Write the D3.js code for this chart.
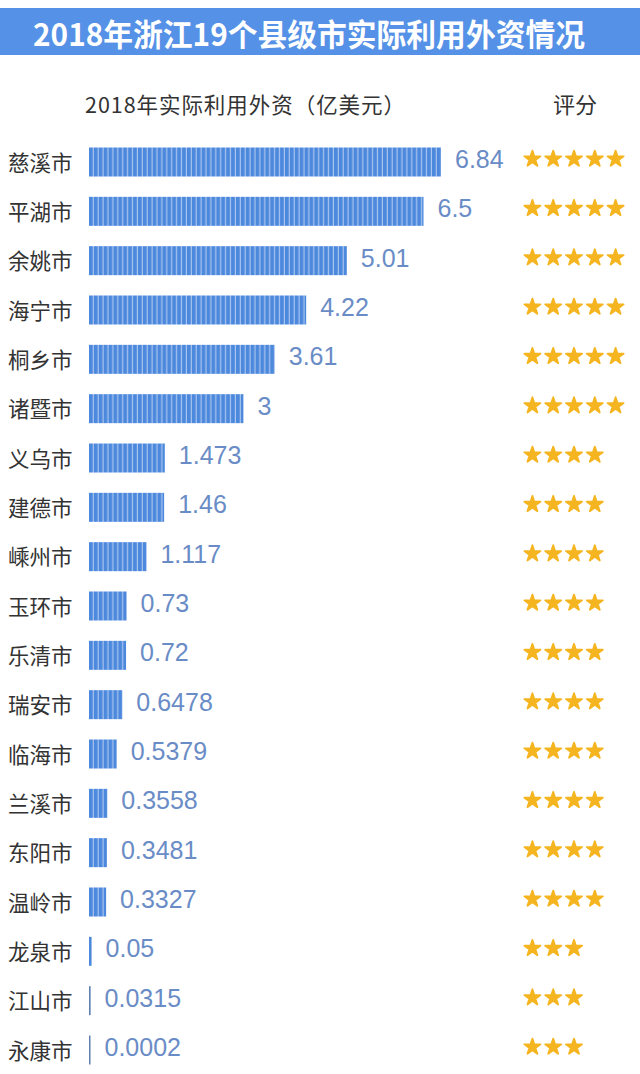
<!DOCTYPE html>
<html>
<head>
<meta charset="utf-8">
<script src="https://cdn.jsdelivr.net/npm/d3@7"></script>
<style>
  html, body { margin: 0; padding: 0; background: #ffffff; }
  svg { display: block; }
</style>
</head>
<body>
<script>
const titleText = "2018年浙江19个县级市实际利用外资情况";
const columnTitle = "2018年实际利用外资（亿美元）";
const ratingTitle = "评分";
const categories = ["慈溪市","平湖市","余姚市","海宁市","桐乡市","诸暨市","义乌市","建德市","嵊州市","玉环市","乐清市","瑞安市","临海市","兰溪市","东阳市","温岭市","龙泉市","江山市","永康市"];
const values = [6.84, 6.5, 5.01, 4.22, 3.61, 3, 1.473, 1.46, 1.117, 0.73, 0.72, 0.6478, 0.5379, 0.3558, 0.3481, 0.3327, 0.05, 0.0315, 0.0002];
const valueLabels = ["6.84","6.5","5.01","4.22","3.61","3","1.473","1.46","1.117","0.73","0.72","0.6478","0.5379","0.3558","0.3481","0.3327","0.05","0.0315","0.0002"];
const ratings = [5,5,5,5,5,5,4,4,4,4,4,4,4,4,4,4,3,3,3];
const starSlots = [0,1,2,3,4];

const W = 640, H = 1074;
const cjk = "'Noto Sans CJK SC', 'Noto Sans', sans-serif";
const svg = d3.select("body").append("svg").attr("width", W).attr("height", H);
svg.append("rect").attr("width", W).attr("height", H).attr("fill", "#ffffff");

// stripe pattern
const defs = svg.append("defs");
const pat = defs.append("pattern").attr("id", "stripes")
  .attr("patternUnits", "userSpaceOnUse").attr("x", 89).attr("y", 0)
  .attr("width", 4.9).attr("height", 10);
pat.append("rect").attr("width", 4.9).attr("height", 10).attr("fill", "#a9c5ef");
pat.append("rect").attr("width", 3.7).attr("height", 10).attr("fill", "#4c89dd");

// title band
svg.append("rect").attr("x", 0).attr("y", 8).attr("width", W).attr("height", 47).attr("fill", "#5591e6");
svg.append("text").attr("x", 33).attr("y", 32).attr("dominant-baseline", "central")
  .attr("font-family", cjk).attr("font-weight", 700).attr("font-size", 31)
  .attr("textLength", 552).attr("lengthAdjust", "spacingAndGlyphs")
  .attr("fill", "#ffffff").text(titleText);

svg.append("text").attr("x", 85).attr("y", 103).attr("dominant-baseline", "central")
  .attr("font-family", cjk).attr("font-size", 21.5).attr("fill", "#333333")
  .attr("textLength", 320).attr("lengthAdjust", "spacing").text(columnTitle);
svg.append("text").attr("x", 553).attr("y", 103).attr("dominant-baseline", "central")
  .attr("font-family", cjk).attr("font-size", 22).attr("fill", "#333333").text(ratingTitle);

const x0 = 89;
const x = d3.scaleLinear().domain([0, 6.84]).range([0, 352]);
const y = d3.scalePoint().domain(categories).range([162, 1050]);
const barH = 29;
const sx = d3.scaleBand().domain(starSlots).range([522, 626]);

const rows = categories.map((c, i) => ({ c, v: values[i], label: valueLabels[i], r: ratings[i] }));

const g = svg.selectAll("g.row").data(rows).join("g").attr("class", "row")
  .attr("transform", d => `translate(0,${y(d.c)})`);

g.append("text").attr("x", 8).attr("y", -1).attr("dominant-baseline", "central")
  .attr("font-family", cjk).attr("font-size", 21.5).attr("fill", "#333333")
  .text(d => d.c);

g.append("rect").attr("x", x0).attr("y", -barH / 2)
  .attr("width", d => Math.max(x(d.v), 1.5)).attr("height", barH)
  .attr("fill", d => x(d.v) < 2 ? "#5f80b0" : "url(#stripes)");

g.append("text").attr("x", d => x0 + Math.max(x(d.v), 1.5) + 14).attr("y", -3)
  .attr("dominant-baseline", "central")
  .attr("font-family", "'Liberation Sans', Arial, sans-serif").attr("font-size", 25)
  .attr("fill", "#6a8cc6").text(d => d.label);

const star = d3.symbol().type(d3.symbolStar).size(80);
g.selectAll("path.star").data(d => d3.range(d.r)).join("path").attr("class", "star")
  .attr("transform", i => `translate(${sx(i) + sx.bandwidth() / 2},-3)`)
  .attr("d", star).attr("fill", "#f5b520").attr("stroke", "#f5b520")
  .attr("stroke-width", 1.8).attr("stroke-linejoin", "round");
</script>
</body>
</html>
